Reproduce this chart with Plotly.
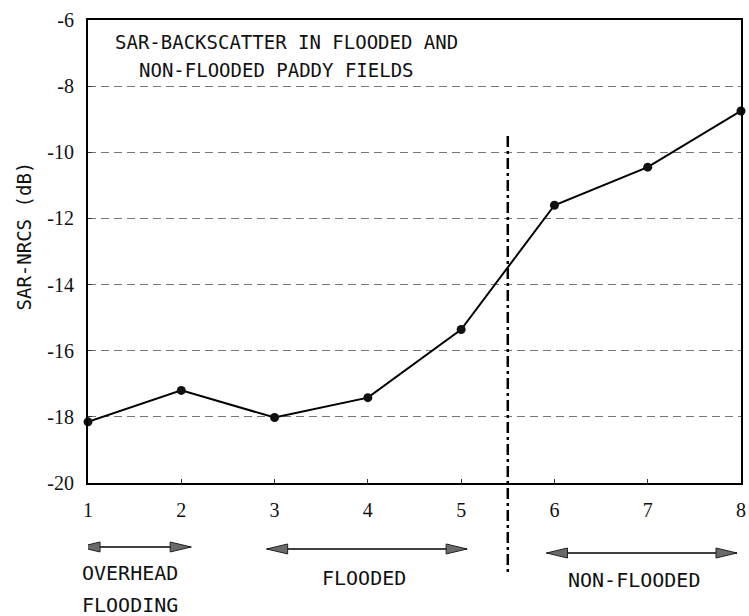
import plotly.graph_objects as go

# ---- data ----
stations = [1, 2, 3, 4, 5, 6, 7, 8]
nrcs_db = [-18.15, -17.2, -18.02, -17.42, -15.36, -11.6, -10.45, -8.75]

y_tickvals = [-20, -18, -16, -14, -12, -10, -8, -6]
y_ticktext = ["-20", "-18", "-16", "-14", "-12", "-10", "-8", "-6"]
x_tickvals = [1, 2, 3, 4, 5, 6, 7, 8]
x_ticktext = ["1", "2", "3", "4", "5", "6", "7", "8"]

boundary_x = 5.5
phase_starts = [0.904, 2.915, 5.915]
phase_ends = [2.106, 5.064, 7.957]
phase_labels = ["OVERHEAD<br>FLOODING", "FLOODED", "NON-FLOODED"]

title_lines = ["SAR-BACKSCATTER IN FLOODED AND", "NON-FLOODED PADDY FIELDS"]
y_title = "SAR-NRCS (dB)"

MONO = "DejaVu Sans Mono"
SERIF = "Liberation Serif"

fig = go.Figure()
fig.add_trace(go.Scatter(
    x=stations, y=nrcs_db, mode="lines+markers",
    line=dict(color="black", width=2),
    marker=dict(color="#111", size=9),
    cliponaxis=False, showlegend=False, hoverinfo="skip",
))

shapes = []
# vertical dash-dot boundary
shapes.append(dict(type="line", xref="x", yref="paper",
                   x0=boundary_x, x1=boundary_x, y0=0.7495, y1=-0.194,
                   line=dict(color="black", width=2.5, dash="11px,4px,3px,4px")))

arrow_y = [-0.1382, -0.1425, -0.1512]
annotations = []
for xs, xe, ay in zip(phase_starts, phase_ends, arrow_y):
    shapes.append(dict(type="line", xref="x", yref="paper",
                       x0=xs, x1=xe, y0=ay, y1=ay,
                       line=dict(color="black", width=1.5)))
    shapes.append(dict(type="path", xref="x", yref="paper",
                       xsizemode="pixel", ysizemode="pixel",
                       xanchor=xs, yanchor=ay,
                       path="M0,0 L21,5 L21,-5 Z",
                       fillcolor="#6a6a6a", line=dict(color="#222", width=1)))
    shapes.append(dict(type="path", xref="x", yref="paper",
                       xsizemode="pixel", ysizemode="pixel",
                       xanchor=xe, yanchor=ay,
                       path="M0,0 L-21,5 L-21,-5 Z",
                       fillcolor="#6a6a6a", line=dict(color="#222", width=1)))

lab_font = dict(family=MONO, size=20, color="#111")
ov1, ov2 = phase_labels[0].split("<br>")
annotations += [
    dict(text=ov1, x=-0.0122, y=-0.1944, xref="paper", yref="paper",
         xanchor="left", yanchor="middle", showarrow=False, font=lab_font),
    dict(text=ov2, x=-0.0122, y=-0.2635, xref="paper", yref="paper",
         xanchor="left", yanchor="middle", showarrow=False, font=lab_font),
    dict(text=phase_labels[1], x=3.957, y=-0.2052, xref="x", yref="paper",
         xanchor="center", yanchor="middle", showarrow=False, font=lab_font),
    dict(text=phase_labels[2], x=6.851, y=-0.2095, xref="x", yref="paper",
         xanchor="center", yanchor="middle", showarrow=False, font=lab_font),
    dict(text=title_lines[0], x=0.038, y=0.9525, xref="paper", yref="paper",
         xanchor="left", yanchor="middle", showarrow=False,
         font=dict(family=MONO, size=19, color="#111")),
    dict(text=title_lines[1], x=0.0745, y=0.892, xref="paper", yref="paper",
         xanchor="left", yanchor="middle", showarrow=False,
         font=dict(family=MONO, size=19, color="#111")),
    dict(text=y_title, x=-0.0973, y=0.5335, xref="paper", yref="paper",
         xanchor="center", yanchor="middle", textangle=-90, showarrow=False,
         font=dict(family=MONO, size=19, color="#111")),
]

fig.update_layout(
    width=749, height=616,
    margin=dict(l=88, r=3, t=20, b=133),
    paper_bgcolor="white", plot_bgcolor="white",
    shapes=shapes, annotations=annotations,
    xaxis=dict(range=[1, 8], tickvals=x_tickvals, ticktext=x_ticktext,
               showgrid=False, zeroline=False,
               showline=True, mirror=True, linecolor="black", linewidth=2,
               ticks="inside", ticklen=4, tickcolor="#333",
               ticklabelstandoff=8,
               tickfont=dict(family=SERIF, size=20, color="#111")),
    yaxis=dict(range=[-20, -6], tickvals=y_tickvals, ticktext=y_ticktext,
               showgrid=True, gridcolor="#777", gridwidth=1, griddash="8px,5px",
               zeroline=False,
               showline=True, mirror=True, linecolor="black", linewidth=2,
               ticks="inside", ticklen=4, tickcolor="#333",
               ticklabelstandoff=8,
               tickfont=dict(family=SERIF, size=20, color="#111")),
)

fig.write_html("out.html")
